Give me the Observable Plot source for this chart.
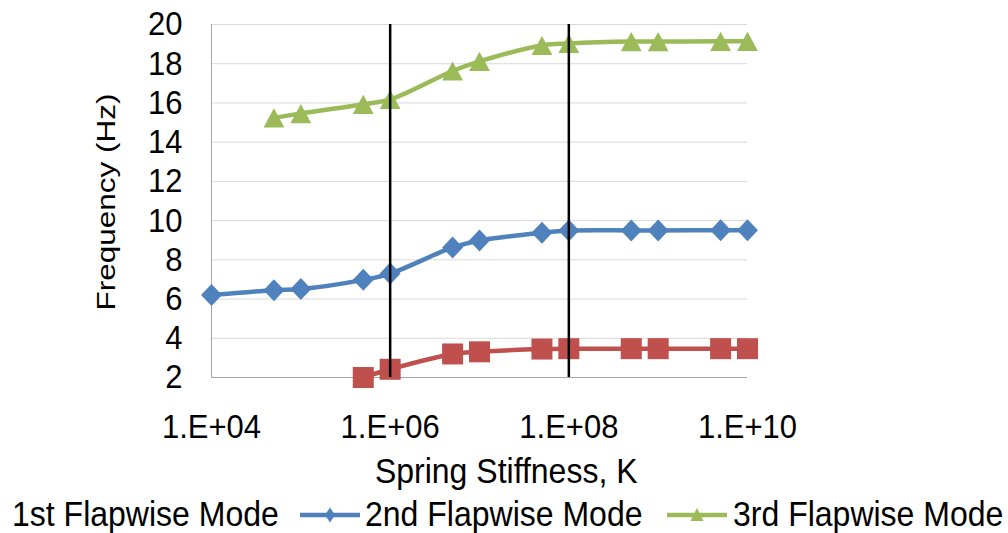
<!DOCTYPE html>
<html>
<head>
<meta charset="utf-8">
<script src="https://cdn.jsdelivr.net/npm/d3@7"></script>
<script src="https://cdn.jsdelivr.net/npm/@observablehq/plot@0.6"></script>
<style>
  html, body { margin: 0; padding: 0; background: #fff; overflow: hidden; }
  body { width: 1008px; height: 533px; font-family: "Liberation Sans", Arial, sans-serif; color: #000; }
  #legend { position: relative; width: 1008px; height: 43px; }
  #legend .txt { position: absolute; font-size: 32px; line-height: 32px; white-space: nowrap;
    transform: scaleY(1.1); transform-origin: 0 27px; }
  #legend svg { position: absolute; }
</style>
</head>
<body>
<div id="chart"></div>
<div id="legend"></div>
<script>
// ---- data ----
const seriesNames = ["1st Flapwise Mode", "2nd Flapwise Mode", "3rd Flapwise Mode"];
const seriesColors = ["#C0504D", "#4F81BD", "#9BBB59"];

const mode1K = [5e5, 1e6, 5e6, 1e7, 5e7, 1e8, 5e8, 1e9, 5e9, 1e10];
const mode1F = [2.0, 2.42, 3.2, 3.31, 3.45, 3.47, 3.47, 3.47, 3.47, 3.47];

const mode2K = [1e4, 5e4, 1e5, 5e5, 1e6, 5e6, 1e7, 5e7, 1e8, 5e8, 1e9, 5e9, 1e10];
const mode2F = [6.21, 6.45, 6.51, 6.98, 7.30, 8.63, 8.99, 9.38, 9.49, 9.50, 9.50, 9.51, 9.51];

const mode3K = [5e4, 1e5, 5e5, 1e6, 5e6, 1e7, 5e7, 1e8, 5e8, 1e9, 5e9, 1e10];
const mode3F = [15.24, 15.46, 15.93, 16.18, 17.63, 18.12, 18.93, 19.03, 19.13, 19.13, 19.14, 19.14];

const refLinesK = [1e6, 1e8];

const xTicks = [1e4, 1e6, 1e8, 1e10];
const xTickLabels = ["1.E+04", "1.E+06", "1.E+08", "1.E+10"];
const yTicks = [2, 4, 6, 8, 10, 12, 14, 16, 18, 20];

const xLabel = "Spring Stiffness, K";
const yLabel = "Frequency (Hz)";

// ---- symbols (Excel-like markers, centred on their bounding box) ----
const squareSym = {draw(ctx, size) { const r = Math.sqrt(size / Math.PI); ctx.rect(-r, -r, 2 * r, 2 * r); }};
const diamondSym = {draw(ctx, size) { const r = Math.sqrt(size / Math.PI);
  ctx.moveTo(0, -r); ctx.lineTo(r * 0.95, 0); ctx.lineTo(0, r); ctx.lineTo(-r * 0.95, 0); ctx.closePath(); }};
const triangleSym = {draw(ctx, size) { const r = Math.sqrt(size / Math.PI);
  const hw = r * 1.3, hh = r * 1.2;
  ctx.moveTo(0, -hh); ctx.lineTo(hw, hh); ctx.lineTo(-hw, hh); ctx.closePath(); }};

const seriesK = [mode1K, mode2K, mode3K];
const seriesF = [mode1F, mode2F, mode3F];
const seriesSym = [squareSym, diamondSym, triangleSym];
const seriesR = [10.5, 11, 8];

const rows = seriesNames.map((name, s) => seriesK[s].map((k, i) => ({k, f: seriesF[s][i], s: name})));

const font = "Liberation Sans, Arial, sans-serif";

const marks = [
  Plot.gridY(yTicks, {stroke: "#d9d9d9", strokeOpacity: 1, strokeWidth: 1}),
  Plot.ruleX([xTicks[0]], {stroke: "#a6a6a6", strokeWidth: 1}),
  Plot.ruleY([yTicks[0]], {stroke: "#a6a6a6", strokeWidth: 1})
];
rows.forEach((data, s) => {
  marks.push(Plot.line(data, {x: "k", y: "f", stroke: seriesColors[s], strokeWidth: 4.5, curve: "catmull-rom"}));
  marks.push(Plot.dot(data, {x: "k", y: "f", symbol: seriesSym[s], r: seriesR[s], fill: seriesColors[s], stroke: "none"}));
});
marks.push(Plot.ruleX(refLinesK, {stroke: "#000", strokeWidth: 2.5}));
marks.push(Plot.axisX({ticks: xTicks, tickFormat: d => xTickLabels[xTicks.indexOf(d)], tickSize: 0, tickPadding: 37, fontSize: 31, label: null}));
marks.push(Plot.axisY({ticks: yTicks, tickSize: 0, tickPadding: 29, fontSize: 31, label: null}));
marks.push(Plot.text([yLabel], {text: d => d, frameAnchor: "left", textAnchor: "middle", lineAnchor: "middle", dx: -104.5, dy: 1, rotate: -90, fontSize: 25}));
marks.push(Plot.text([xLabel], {text: d => d, frameAnchor: "bottom", textAnchor: "middle", lineAnchor: "middle", dx: 27, dy: 94, fontSize: 32}));

const chart = Plot.plot({
  width: 1008,
  height: 490,
  marginLeft: 211,
  marginRight: 261,
  marginTop: 24,
  marginBottom: 113,
  style: {fontFamily: font, color: "#000", background: "#fff", overflow: "visible"},
  x: {type: "log", domain: [1e4, 1e10]},
  y: {domain: [2, 20]},
  marks
});
document.getElementById("chart").appendChild(chart);

// Reference text is drawn slightly tall / narrow: stretch glyph height, keeping each text's centre in place.
d3.select(chart).selectAll("text").each(function() {
  const b0 = this.getBoundingClientRect();
  const t = this.getAttribute("transform") || "";
  const rot = t.includes("rotate");
  this.setAttribute("transform", (t + (rot ? " scale(1.26,1)" : " scale(1,1.1)")).trim());
  const b1 = this.getBoundingClientRect();
  const ddx = (b0.left + b0.right) / 2 - (b1.left + b1.right) / 2;
  const ddy = (b0.top + b0.bottom) / 2 - (b1.top + b1.bottom) / 2;
  this.setAttribute("transform", `translate(${ddx},${ddy}) ` + this.getAttribute("transform"));
});

// ---- legend (below the SVG) ----
const legend = d3.select("#legend");
const legendItems = [
  {text: seriesNames[0], textX: 12, sym: null},
  {text: seriesNames[1], textX: 365, symX: 300, sym: "diamond", color: seriesColors[1]},
  {text: seriesNames[2], textX: 733, symX: 667, sym: "triangle", color: seriesColors[2]}
];
legendItems.forEach(it => {
  if (it.sym) {
    const sv = legend.append("svg").attr("width", 60).attr("height", 20)
      .style("left", it.symX + "px").style("top", "15px");
    sv.append("line").attr("x1", 0).attr("x2", 60).attr("y1", 10).attr("y2", 10)
      .attr("stroke", it.color).attr("stroke-width", 4.5);
    if (it.sym === "diamond") {
      sv.append("path").attr("d", "M30,2.5L35,10L30,17.5L25,10Z").attr("fill", it.color);
    } else {
      sv.append("path").attr("d", "M30,3L36.5,16L23.5,16Z").attr("fill", it.color);
    }
  }
  legend.append("div").attr("class", "txt").style("left", it.textX + "px").style("top", "9px").text(it.text);
});
</script>
</body>
</html>
